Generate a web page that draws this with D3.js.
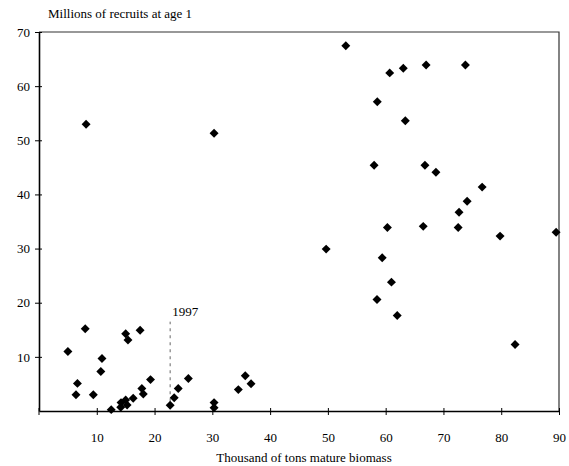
<!DOCTYPE html>
<html>
<head>
<meta charset="utf-8">
<script src="https://cdn.jsdelivr.net/npm/d3@7"></script>
<style>
  body { margin: 0; background: #fff; }
  svg text { font-family: "Liberation Serif", "Times New Roman", serif !important; fill: #000; }
</style>
</head>
<body>
<div class="viz"></div>
<script>
const width = 569, height = 466;
const margin = { top: 32, right: 10, bottom: 55, left: 39 };

// biomass (thousand tons) and recruits (millions)
const biomass = [5.0, 6.65, 6.4, 8.0, 9.4, 10.9, 10.7, 12.5, 14.15, 14.2, 15.0, 15.25, 15.0, 15.4,
  16.3, 17.5, 17.8, 18.05, 19.3, 22.7, 23.4, 24.1, 25.85, 30.3, 30.3, 34.5, 35.7, 36.7,
  8.15, 30.3, 53.1, 60.7, 63.05, 67.0, 73.8, 58.55, 63.4, 58.0, 66.8, 68.7, 76.7, 74.1,
  72.7, 60.3, 66.5, 72.55, 79.8, 89.5, 49.7, 59.4, 61.0, 58.5, 62.0, 82.4];
const recruits = [11.0, 5.1, 3.0, 15.2, 3.0, 9.7, 7.3, 0.25, 0.7, 1.55, 2.05, 1.1, 14.25, 13.1,
  2.35, 14.9, 4.15, 3.15, 5.8, 1.05, 2.45, 4.15, 6.0, 1.55, 0.6, 3.95, 6.5, 5.05,
  52.95, 51.3, 67.45, 62.45, 63.3, 63.9, 63.9, 57.1, 53.6, 45.4, 45.4, 44.1, 41.35, 38.75,
  36.7, 33.9, 34.1, 33.9, 32.3, 33.0, 29.9, 28.3, 23.8, 20.6, 17.65, 12.3];
const xTicks = [10, 20, 30, 40, 50, 60, 70, 80, 90];
const yTicks = [10, 20, 30, 40, 50, 60, 70];
const markerYear = 1997, markerX = 22.7, markerY = [1.8, 16.5];

const points = biomass.map((b, i) => ({ x: b, y: recruits[i] }));

const svg = d3.select(".viz").append("svg")
  .attr("width", width).attr("height", height)
  .attr("font-family", "Liberation Serif");

const x = d3.scaleLinear().domain([0, 90]).range([margin.left, width - margin.right]);
const y = d3.scaleLinear().domain([0, 70]).range([height - margin.bottom, margin.top]);

// frame top + right
svg.append("path")
  .attr("d", `M${x(0)},${y(70)}H${x(90)}V${y(0)}`)
  .attr("fill", "none").attr("stroke", "#333").attr("stroke-width", 1.2);

const xAxis = svg.append("g")
  .attr("transform", `translate(0,${y(0)})`)
  .call(d3.axisBottom(x).tickValues(xTicks).tickSizeInner(4).tickSizeOuter(0).tickPadding(18));
const yAxis = svg.append("g")
  .attr("transform", `translate(${x(0)},0)`)
  .call(d3.axisLeft(y).tickValues(yTicks).tickSizeInner(4).tickSizeOuter(0).tickPadding(5));

[xAxis, yAxis].forEach(g => {
  g.attr("font-family", "Liberation Serif").attr("font-size", 13);
  g.select(".domain").attr("stroke", "#000").attr("stroke-width", 1.6);
  g.selectAll(".tick line").attr("stroke", "#000");
});
// ticks cross the axis
xAxis.selectAll(".tick line").attr("y1", -3).attr("y2", 4);
yAxis.selectAll(".tick line").attr("x1", 3).attr("x2", -4);
xAxis.append("line").attr("x1", x(0)).attr("x2", x(0)).attr("y1", -3).attr("y2", 4).attr("stroke", "#000");

// 1997 marker
svg.append("line")
  .attr("x1", x(markerX)).attr("x2", x(markerX))
  .attr("y1", y(markerY[0])).attr("y2", y(markerY[1]))
  .attr("stroke", "#666").attr("stroke-width", 1).attr("stroke-dasharray", "3,4");
svg.append("text")
  .attr("x", x(markerX) + 2).attr("y", y(markerY[1]) - 6)
  .attr("font-size", 13).text(markerYear);

const diamond = d3.symbol().type(d3.symbolSquare).size(40);
svg.append("g").selectAll("path")
  .data(points)
  .join("path")
  .attr("d", diamond)
  .attr("transform", d => `translate(${x(d.x)},${y(d.y)}) rotate(45)`)
  .attr("fill", "#000");

svg.append("text")
  .attr("x", 48).attr("y", 18)
  .attr("font-size", 13)
  .text("Millions of recruits at age 1");

svg.append("text")
  .attr("x", 304).attr("y", 462)
  .attr("text-anchor", "middle")
  .attr("font-size", 13)
  .text("Thousand of tons mature biomass");
</script>
</body>
</html>
